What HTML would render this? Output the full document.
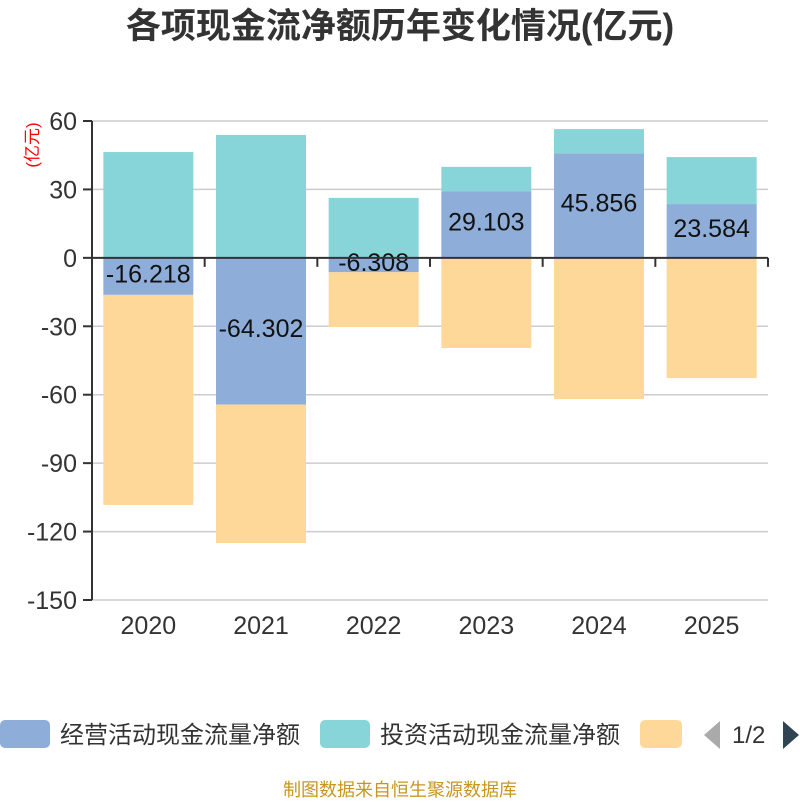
<!DOCTYPE html>
<html><head><meta charset="utf-8"><style>
body{margin:0;background:#fff;}
svg text{font-family:"Liberation Sans","Noto Sans CJK SC",sans-serif;}
</style></head><body>
<svg id="chart" width="800" height="800" xmlns="http://www.w3.org/2000/svg">
<text x="400" y="38" text-anchor="middle" font-size="35" font-weight="bold" fill="#333">各项现金流净额历年变化情况(亿元)</text>
<text transform="translate(38,145) rotate(-90)" text-anchor="middle" font-size="17" fill="#f00">(亿元)</text>
<g id="grid"></g><g id="bars"></g><g id="axes"></g>
<g>
<rect x="0" y="720" width="50" height="28" rx="5" fill="#8eaed9"/>
<text x="60" y="743" font-size="24" fill="#333">经营活动现金流量净额</text>
<rect x="320" y="720" width="50" height="28" rx="5" fill="#88d5d9"/>
<text x="380" y="743" font-size="24" fill="#333">投资活动现金流量净额</text>
<rect x="640" y="720" width="42" height="28" rx="5" fill="#fed898"/>
<polygon points="720,721 720,749 704,735" fill="#aaa"/>
<text x="732" y="743" font-size="24" fill="#333">1/2</text>
<polygon points="783,721 783,749 799,735" fill="#2f4554"/>
</g>
<text x="400" y="796" text-anchor="middle" font-size="18" fill="#c8961e">制图数据来自恒生聚源数据库</text>
</svg>
<script>
const categories=["2020","2021","2022","2023","2024","2025"];
const operating=[-16.218,-64.302,-6.308,29.103,45.856,23.584];
const investing=[46.4,53.9,26.3,10.8,10.6,20.6];
const financing=[-92.1,-60.7,-24.0,-39.5,-61.9,-52.7];
const yTicks=[60,30,0,-30,-60,-90,-120,-150];
const NS="http://www.w3.org/2000/svg";
const x0=92,x1=768,yTop=121,yBot=600,yMax=60,yMin=-150;
const bw=(x1-x0)/categories.length;
function y(v){return yTop+(yMax-v)/(yMax-yMin)*(yBot-yTop);}
function xc(i){return x0+bw*(i+0.5);}
function mk(tag,attrs,parent){const e=document.createElementNS(NS,tag);for(const k in attrs)e.setAttribute(k,attrs[k]);document.getElementById(parent).appendChild(e);return e;}
yTicks.forEach(t=>{
 if(t!==0){const l=mk('line',{x1:x0,x2:x1,y1:y(t),y2:y(t),stroke:'#ccc','stroke-width':1.5},'grid');
 
 }
 const tk=mk('line',{x1:x0-9,x2:x0,y1:y(t),y2:y(t),stroke:'#333','stroke-width':2},'axes');
 
 
 const tx=mk('text',{x:x0-15,y:y(t)+9,'text-anchor':'end','font-size':25,fill:'#333'},'axes');
 tx.textContent=t;
 
 
});
categories.forEach((c,i)=>{
 const w=90,bx=xc(i)-w/2;
 let pos=0,neg=0;
 const series=[[operating[i],'#8eaed9','bar-operating-'+c],[investing[i],'#88d5d9','bar-investing-'+c],[financing[i],'#fed898','bar-financing-'+c]];
 series.forEach(([v,col,name])=>{
  let a,b;
  if(v>=0){a=pos;b=pos+v;pos=b;}else{a=neg;b=neg+v;neg=b;}
  const r=mk('rect',{x:bx,y:Math.min(y(a),y(b)),width:w,height:Math.abs(y(a)-y(b)),fill:col},'bars');
  
  
 });
 const ov=operating[i];
 const lt=mk('text',{x:xc(i),y:y(ov/2)+6,'text-anchor':'middle','font-size':25,fill:'#111'},'bars');
 lt.textContent=ov.toFixed(3);
 
 
 const cl=mk('text',{x:xc(i),y:634,'text-anchor':'middle','font-size':25,fill:'#333'},'axes');
 cl.textContent=c;
 
 
});
for(let i=0;i<=categories.length;i++){
 const t=mk('line',{x1:x0+bw*i,x2:x0+bw*i,y1:y(0),y2:y(0)+9,stroke:'#333','stroke-width':2},'axes');
 
 
}
const ya=mk('line',{x1:x0,x2:x0,y1:yTop,y2:yBot,stroke:'#333','stroke-width':2},'axes');


const xa=mk('line',{x1:x0,x2:x1,y1:y(0),y2:y(0),stroke:'#333','stroke-width':2},'axes');


</script>
</body></html>
